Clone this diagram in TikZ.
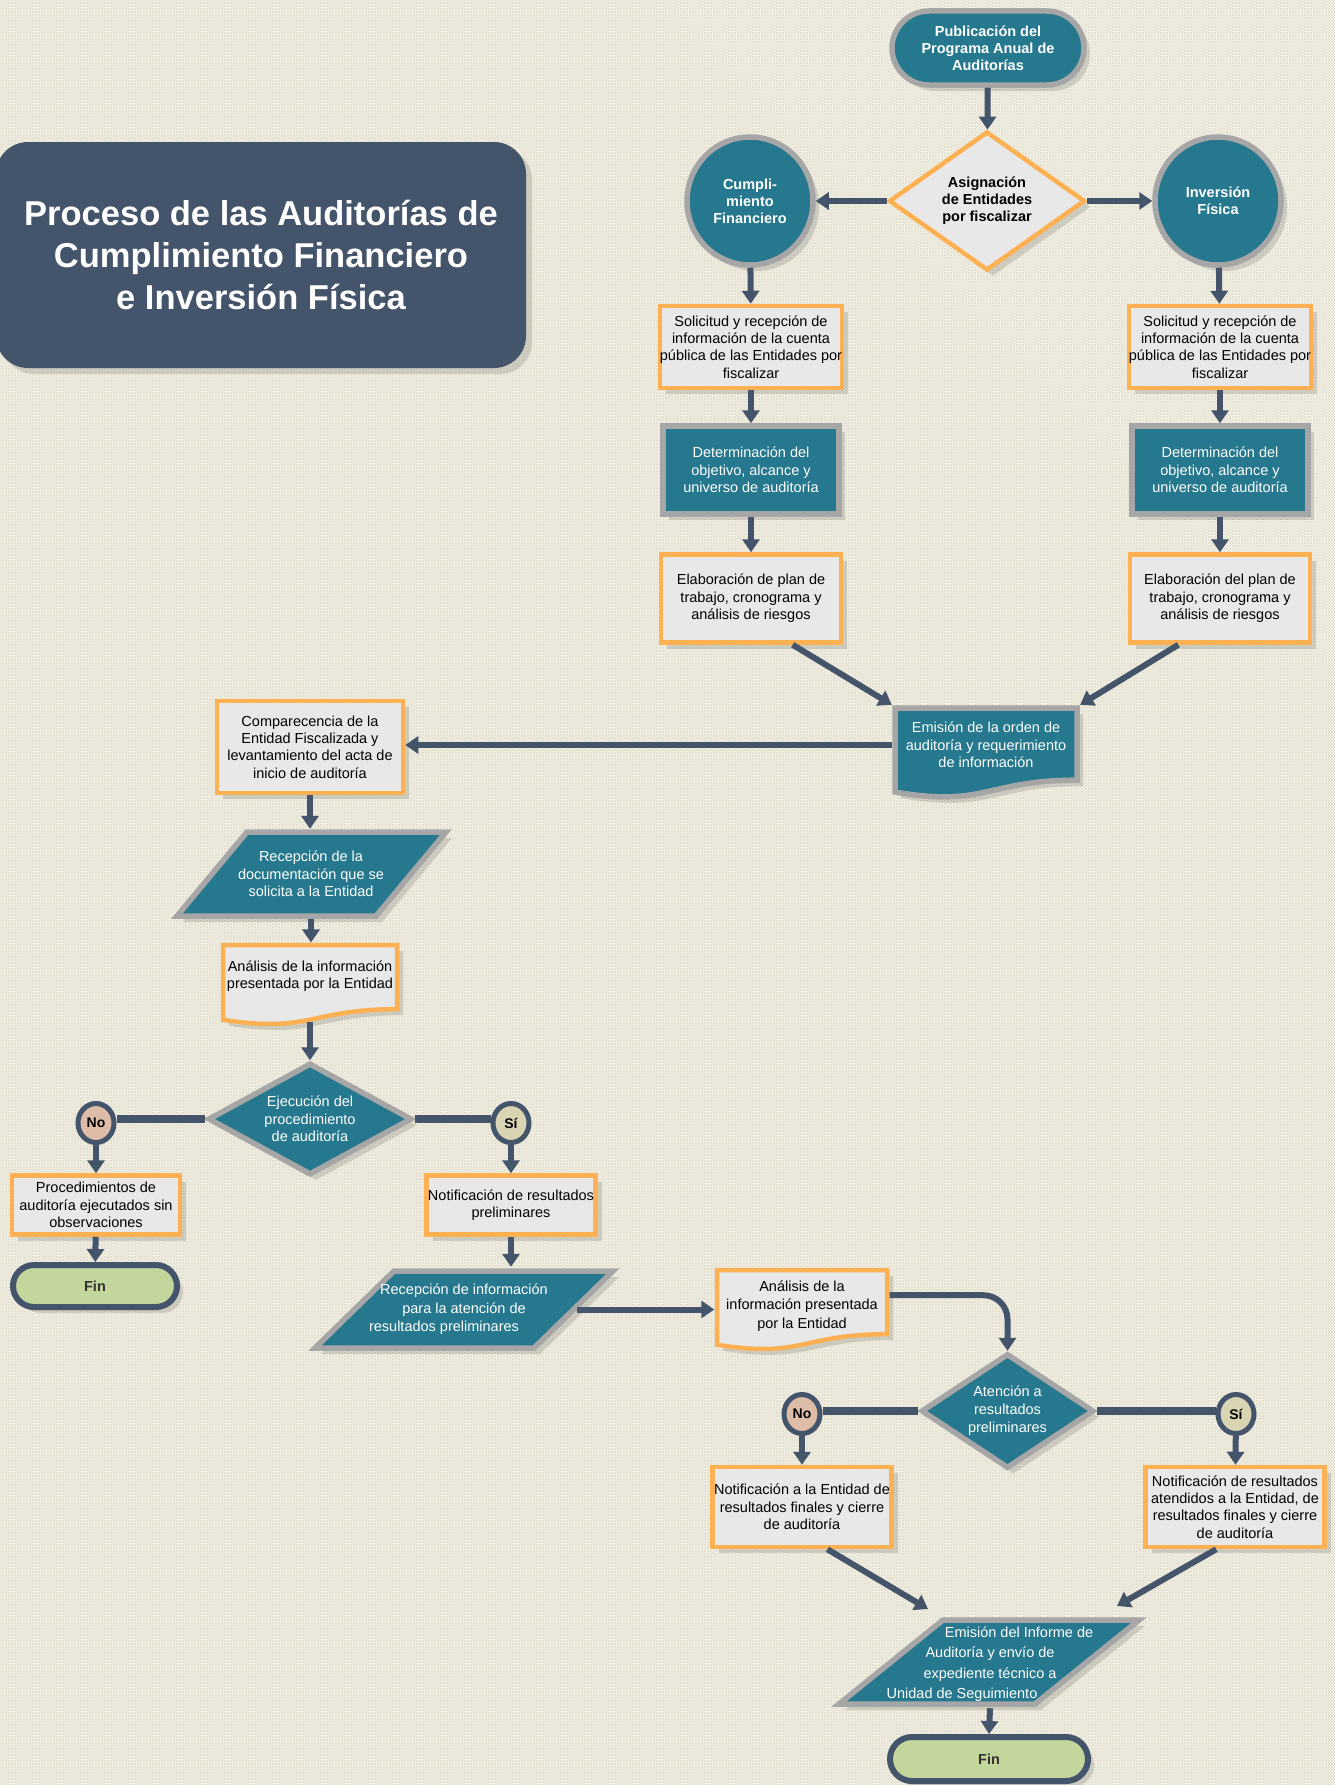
\documentclass[tikz,border=0pt]{standalone}
\usepackage{fontspec}
\setmainfont{Liberation Sans}
\usetikzlibrary{shapes.geometric,arrows.meta,shadows,patterns}
\definecolor{cTeal}{HTML}{25788D}
\definecolor{cGray}{HTML}{A6A6A6}
\definecolor{cOrange}{HTML}{FDB152}
\definecolor{cLight}{HTML}{E8E8E8}
\definecolor{cSlate}{HTML}{44546A}
\definecolor{cNo}{HTML}{DDBCA8}
\definecolor{cSi}{HTML}{D9D4B2}
\definecolor{cFin}{HTML}{C3D69B}
\definecolor{cBg}{HTML}{FAF9F4}
\definecolor{cPat}{HTML}{E0DCC6}
\newcommand\docpath[5]{%
  \path[#1] (#2,#3) -- ({#2+#4},#3) -- ({#2+#4},{#3+0.802*#5})
    .. controls ({#2+0.5*#4},{#3+0.802*#5}) and ({#2+0.5*#4},{#3+1.107*#5}) .. (#2,{#3+0.934*#5}) -- cycle;}
\tikzset{
  txt/.style={font=\fontsize{14.5}{17.4}\selectfont, align=center, inner sep=0pt},
  shd/.style={drop shadow={shadow xshift=6pt, shadow yshift=-6pt, opacity=0.13, fill=black}},
  obox/.style={txt, shd, rectangle, draw=cOrange, line width=4.5pt, fill=cLight, text=black},
  tbox/.style={txt, shd, rectangle, draw=cGray, line width=5.5pt, fill=cTeal, text=white},
  tell/.style={txt, shd, ellipse, draw=cGray, line width=5.5pt, fill=cTeal, text=white, font=\fontsize{14.5}{17}\selectfont\bfseries},
  tdia/.style={txt, shd, diamond, draw=cGray, line width=5.5pt, fill=cTeal, text=white},
  odia/.style={txt, shd, diamond, draw=cOrange, line width=4.5pt, fill=cLight, text=black, font=\fontsize{14.5}{17}\selectfont\bfseries},
  geo/.style={inner sep=0pt, outer sep=0pt},
  tshape/.style={shd, draw=cGray, line width=5.5pt, fill=cTeal},
  oshape/.style={shd, draw=cOrange, line width=4.5pt, fill=cLight},
  yn/.style={ellipse, draw=cSlate, line width=5pt, inner sep=0pt, minimum width=36pt, minimum height=39pt, font=\fontsize{14}{16}\selectfont\bfseries, text=black},
  finbox/.style={shd, rectangle, rounded corners=21pt, draw=cSlate, line width=6pt, fill=cFin, inner sep=0pt, font=\fontsize{14.5}{17}\selectfont\bfseries, text=black!80},
  titlebox/.style={shd, rectangle, rounded corners=32pt, fill=cSlate, inner sep=0pt, align=center, text=white, font=\fontsize{34.5}{42}\selectfont\bfseries},
  arr/.style={draw=cSlate, line width=6pt, -{Triangle[length=13pt,width=17pt]}},
  lnk/.style={draw=cSlate, line width=8pt},
}
\begin{document}
\begin{tikzpicture}[x=1pt,y=-1pt]
\useasboundingbox (0,0) rectangle (1335,1785);
\fill[cBg] (0,0) rectangle (1335,1785);
\fill[pattern=north east lines, pattern color=cPat] (0,0) rectangle (1335,1785);
\fill[pattern=north west lines, pattern color=cPat] (0,0) rectangle (1335,1785);

% title
\node[titlebox, minimum width=530pt, minimum height=226pt] (title) at (261,255)
  {Proceso de las Auditorías de\\Cumplimiento Financiero\\e Inversión Física};

% top part
\node[tell, rectangle, rounded corners=37pt, minimum width=192pt, minimum height=74pt] (pub) at (988,48)
  {Publicación del\\Programa Anual de\\Auditorías};
\node[odia, shape aspect=1.4, minimum width=196pt, minimum height=139pt] (asig) at (987,201)
  {Asignación\\de Entidades\\por fiscalizar};
\node[tell, minimum width=126pt, minimum height=128pt] (cf) at (750,201) {Cumpli-\\miento\\Financiero};
\node[tell, minimum width=126pt, minimum height=128pt] (inv) at (1218,201) {Inversión\\Física};

\node[obox, minimum width=181pt, minimum height=82pt] (sol1) at (751,347)
  {Solicitud y recepción de\\información de la cuenta\\pública de las Entidades por\\fiscalizar};
\node[obox, minimum width=181pt, minimum height=82pt] (sol2) at (1220,347)
  {Solicitud y recepción de\\información de la cuenta\\pública de las Entidades por\\fiscalizar};
\node[tbox, minimum width=176pt, minimum height=88pt] (det1) at (751,470)
  {Determinación del\\objetivo, alcance y\\universo de auditoría};
\node[tbox, minimum width=176pt, minimum height=88pt] (det2) at (1220,470)
  {Determinación del\\objetivo, alcance y\\universo de auditoría};
\node[obox, minimum width=180pt, minimum height=88pt] (ela1) at (751,598.5)
  {Elaboración de plan de\\trabajo, cronograma y\\análisis de riesgos};
\node[obox, minimum width=180pt, minimum height=88pt] (ela2) at (1220,598.5)
  {Elaboración del plan de\\trabajo, cronograma y\\análisis de riesgos};

% emision orden
\docpath{tshape}{895}{708}{182}{90}
\node[txt, text=white, minimum width=188pt, minimum height=80pt] (emi) at (986,745)
  {Emisión de la orden de\\auditoría y requerimiento\\de información};

% left column
\node[obox, minimum width=186pt, minimum height=92pt] (comp) at (310,747)
  {Comparecencia de la\\Entidad Fiscalizada y\\levantamiento del acta de\\inicio de auditoría};
\path[tshape] (247,832) -- (446,832) -- (376,916) -- (177,916) -- cycle;
\node[txt, text=white, minimum width=100pt, minimum height=90pt, font=\fontsize{14.5}{17.5}\selectfont] (rec1) at (311,874)
  {Recepción de la\\documentación que se\\solicita a la Entidad};
\docpath{oshape}{223}{945}{174}{80}
\node[geo, minimum width=179pt, minimum height=79.5pt] (ana1) at (310,982.2) {};
\node[txt] (ana1txt) at (310,976) {Análisis de la información\\presentada por la Entidad};

\node[tdia, shape aspect=1.8, minimum width=204pt, minimum height=112pt] (eje) at (310,1119)
  {Ejecución del\\procedimiento\\de auditoría};
\node[yn, fill=cNo] (no1) at (96,1123) {No};
\node[yn, fill=cSi] (si1) at (511,1123) {Sí};
\node[obox, minimum width=168pt, minimum height=59pt] (proc1) at (96,1205)
  {Procedimientos de\\auditoría ejecutados sin\\observaciones};
\node[finbox, minimum width=164pt, minimum height=42pt] (fin1) at (95,1286) {Fin};
\node[obox, minimum width=169pt, minimum height=59pt] (not1) at (511,1205)
  {Notificación de resultados\\preliminares};

\path[tshape] (394,1271) -- (613,1271) -- (534,1348) -- (315,1348) -- cycle;
\node[txt, text=white, minimum width=226pt, minimum height=85pt, font=\fontsize{14.5}{18.5}\selectfont] (rec2) at (464,1309.5)
  {Recepción de información\\para la atención de\\resultados preliminares\hspace*{40pt}};

\docpath{oshape}{717}{1270}{170}{80}
\node[txt, minimum width=175pt, minimum height=79.5pt, font=\fontsize{14.5}{18.5}\selectfont] (ana2) at (802,1306)
  {Análisis de la\\información presentada\\por la Entidad};

\node[tdia, shape aspect=1.6, minimum width=173pt, minimum height=115pt, font=\fontsize{14.5}{18}\selectfont] (ate) at (1007.5,1411)
  {Atención a\\resultados\\preliminares};
\node[yn, fill=cNo] (no2) at (802,1414) {No};
\node[yn, fill=cSi] (si2) at (1236,1414) {Sí};
\node[obox, minimum width=179pt, minimum height=80pt] (nf1) at (802,1507)
  {Notificación a la Entidad de\\resultados finales y cierre\\de auditoría};
\node[obox, minimum width=179pt, minimum height=80pt] (nf2) at (1235,1507)
  {Notificación de resultados\\atendidos a la Entidad, de\\resultados finales y cierre\\de auditoría};

\path[tshape] (943,1620) -- (1139,1620) -- (1035,1704) -- (839,1704) -- cycle;
\node[txt, text=white, minimum width=150pt, minimum height=88pt, font=\fontsize{14.5}{20.3}\selectfont] (emi2) at (990,1664)
  {\hspace*{58pt}Emisión del Informe de\\Auditoría y envío de\\expediente técnico a\\Unidad de Seguimiento\hspace*{56pt}};
\coordinate (emi2L) at (928,1609);
\coordinate (emi2R) at (1117,1606);
\node[finbox, rounded corners=22pt, minimum width=198pt, minimum height=44pt] (fin2) at (989,1759) {Fin};

% connectors
\draw[arr] (pub) -- (asig);
\draw[arr] (asig.west) -- (asig.west -| cf.east);
\draw[arr] (asig.east) -- (asig.east -| inv.west);
\draw[arr] (cf) -- (sol1);
\draw[arr] (inv) -- (sol2);
\draw[arr] (sol1) -- (det1);
\draw[arr] (sol2) -- (det2);
\draw[arr] (det1) -- (ela1);
\draw[arr] (det2) -- (ela2);
\draw[arr] (ela1.-48) -- (emi.north west);
\draw[arr] (ela2.-132) -- (emi.north east);
\draw[arr] (emi.west) -- (emi.west -| comp.east);
\draw[arr] (comp.south) -- (comp.south |- rec1.north);
\draw[arr] (rec1.south) -- (rec1.south |- ana1.north);
\draw[arr] (ana1.south) -- (eje.north);
\draw[lnk] (eje.west) -- (eje.west -| no1.east);
\draw[lnk] (eje.east) -- (eje.east -| si1.west);
\draw[arr] (no1) -- (proc1);
\draw[arr] (proc1) -- (fin1);
\draw[arr] (si1) -- (not1);
\draw[arr] (not1.south) -- (not1.south |- rec2.north);
\draw[arr] (rec2.east) -- (rec2.east -| ana2.west);
\draw[arr, rounded corners=24pt] (ana2.7) -| (ate.north);
\draw[lnk] (ate.west) -- (ate.west -| no2.east);
\draw[lnk] (ate.east) -- (ate.east -| si2.west);
\draw[arr] (no2) -- (nf1);
\draw[arr] (si2) -- (nf2);
\draw[arr] (nf1.-59) -- (emi2L);
\draw[arr] (nf2.-114) -- (emi2R);
\draw[arr] (emi2.south) -- (fin2.north);
\end{tikzpicture}
\end{document}
